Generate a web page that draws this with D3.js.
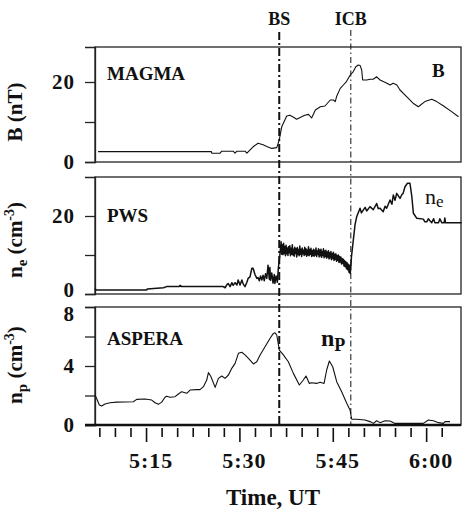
<!DOCTYPE html>
<html>
<head>
<meta charset="utf-8">
<script src="https://cdn.jsdelivr.net/npm/d3@7"></script>
<style>
  body { margin: 0; background: #fff; }
  svg { display: block; }
  text { font-family: "Liberation Serif", "Times New Roman", serif; fill: #111; font-weight: bold; }
</style>
</head>
<body>
<div id="chart"></div>
<script>
// time is minutes after 05:00 UT
var bData = [
  [7.3,2.6],[25.5,2.6],[25.55,2.2],[26.9,2.2],[27.15,2.7],[29.0,2.7],[29.3,2.2],[29.6,2.7],[30.9,2.7],[31.2,2.2],
  [32.2,3.8],[33.0,4.7],[33.8,4.3],[34.4,3.9],[35.2,3.4],[36.0,3.6],[36.4,5.5],[36.8,8.8],[37.6,11.5],[38.1,11.7],
  [38.7,11.2],[39.2,10.7],[40.0,11.3],[40.5,11.7],[41.1,11.9],[41.6,11.0],[42.2,13.0],[43.0,13.8],[43.75,14.0],[44.6,15.5],
  [45.1,15.5],[45.4,15.1],[45.6,16.3],[46.2,18.4],[46.7,19.25],[47.2,20.1],[47.8,21.75],[48.3,22.6],[48.7,23.8],[49.1,24.25],
  [49.4,24.1],[49.65,23.0],[49.8,20.5],[50.45,20.5],[51.0,20.7],[51.5,20.7],[52.05,21.3],[52.6,20.5],[53.1,20.1],[53.7,19.7],
  [54.2,19.25],[54.7,19.7],[55.3,19.25],[55.8,18.0],[56.9,16.3],[57.9,14.7],[58.75,13.8],[59.8,15.1],[60.9,15.7],[61.7,15.1],
  [62.8,14.0],[64.1,12.6],[65.2,11.3]
];

var neData = [
  [6.8,1.4],[7.0,1.0],[15.1,1.0],[15.2,1.3],[17.8,1.6],[18.3,1.9],[20.3,1.9],[20.5,2.2],[20.7,1.9],[27.4,1.9],
  [27.7,1.6],[28.0,2.4],[28.2,2.7],[28.5,1.9],[28.8,2.9],[29.0,2.2],[29.3,2.9],[29.6,2.3],[29.8,3.6],[30.1,2.3],
  [30.4,3.6],[30.6,2.6],[30.9,1.9],[31.2,3.0],[31.4,4.0],[31.7,4.4],[32.0,6.6],[32.2,6.6],[32.5,5.0],[32.8,4.0],
  [33.0,4.2],[33.2,3.4],[33.4,4.6],[33.6,3.6],[33.8,4.8],[34.0,3.4],[34.2,5.2],[34.4,4.0],[34.6,7.4],[34.8,3.8],
  [34.9,6.8],[35.0,3.5],[35.2,5.4],[35.4,2.8],[35.6,5.0],[35.7,2.7],[35.9,4.6],[36.1,3.0],[36.25,6.6],[36.5,10.0],
  [36.7,13.4],[36.8,10.2],
  [36.9,12.6],[37.0,10.1],[37.1,13.0],[37.2,10.4],[37.3,12.2],[37.4,9.8],[37.5,12.5],[37.6,10.3],[37.7,11.8],[37.8,9.9],
  [37.9,12.1],[38.0,10.6],[38.1,12.4],[38.2,9.8],[38.3,11.7],[38.4,10.2],[38.5,12.6],[38.6,10.0],[38.7,11.5],[38.8,9.7],
  [38.9,12.0],[39.0,10.4],[39.1,11.6],[39.2,9.5],[39.3,11.9],[39.4,10.1],[39.5,11.4],[39.6,9.8],[39.7,12.3],[39.8,10.2],
  [39.9,11.5],[40.0,9.6],[40.1,11.8],[40.2,10.3],[40.3,11.2],[40.4,9.9],[40.5,12.0],[40.6,10.1],[40.7,11.6],[40.8,9.7],
  [40.9,11.3],[41.0,10.0],[41.1,12.1],[41.2,9.8],[41.3,11.4],[41.4,10.2],[41.5,11.7],[41.6,9.6],[41.7,11.1],[41.8,9.9],
  [41.9,11.5],[42.0,9.7],[42.1,11.2],[42.2,10.0],[42.3,11.8],[42.4,9.6],[42.5,11.0],[42.6,10.1],[42.7,11.6],[42.8,9.5],
  [42.9,11.3],[43.0,9.8],[43.1,11.5],[43.2,9.4],[43.3,10.9],[43.4,9.9],[43.5,11.6],[43.6,9.3],[43.7,11.0],[43.8,9.6],
  [43.9,11.2],[44.0,9.2],[44.1,10.8],[44.2,9.5],[44.3,11.1],[44.4,9.0],[44.5,10.6],[44.6,9.3],[44.7,10.9],[44.8,8.8],
  [44.9,10.4],[45.0,9.1],[45.1,10.7],[45.2,8.6],[45.3,10.2],[45.4,8.9],[45.5,10.3],[45.6,8.4],[45.7,9.9],[45.8,8.6],
  [45.9,10.0],[46.0,8.1],[46.1,9.6],[46.2,8.2],[46.3,9.5],[46.4,7.7],[46.5,9.1],[46.6,7.8],[46.7,8.9],[46.8,7.2],
  [46.9,8.6],[47.0,7.0],[47.1,8.3],[47.2,6.5],[47.3,8.0],[47.4,6.2],[47.5,7.6],[47.6,5.6],[47.7,7.4],[47.8,5.2],
  [47.9,6.8],[48.0,9.5],[48.3,13.8],[48.57,17.7],
  [48.84,19.8],[49.38,22.0],[49.6,20.8],[50.2,22.2],[50.45,21.3],[50.98,22.4],[51.5,21.6],[52.05,23.2],[52.3,21.9],[52.6,22.0],
  [53.1,21.1],[53.4,22.5],[53.66,22.0],[54.2,24.1],[54.5,23.0],[54.73,25.4],[55.0,24.0],[55.27,25.8],[55.8,24.5],[56.1,25.5],
  [56.3,25.8],[56.6,27.5],[57.0,28.4],[57.4,28.4],[57.7,25.0],[57.95,20.7],[58.5,19.4],[59.55,19.2],[59.8,18.5],[60.1,18.5],
  [60.35,19.3],[60.6,18.8],[60.9,18.3],[61.2,19.3],[61.4,18.3],[62.0,18.3],[62.2,19.3],[62.5,18.3],[62.9,18.3],[63.0,19.5],
  [63.1,18.3],[65.7,18.3]
];

var npData = [
  [6.8,2.03],[7.17,1.69],[7.5,1.36],[7.87,1.29],[8.41,1.42],[9.21,1.51],[10.28,1.55],[12.96,1.58],[13.5,1.74],[14.84,1.76],
  [15.91,1.69],[16.45,1.51],[16.98,1.4],[17.52,1.55],[18.05,1.88],[18.32,1.95],[18.86,1.88],[19.66,1.92],[20.2,2.1],[20.73,2.26],
  [21.54,2.15],[22.07,2.37],[23.14,2.4],[23.68,2.4],[24.22,2.6],[24.75,3.05],[25.02,3.55],[25.4,3.3],[26.1,2.55],[26.63,3.16],
  [27.17,3.32],[27.7,3.16],[28.24,3.39],[28.77,3.84],[29.31,4.18],[29.84,4.86],[30.38,4.93],[30.91,4.75],[31.45,4.52],[32.25,4.14],
  [32.79,4.29],[33.32,4.75],[34.12,5.31],[34.93,5.88],[35.46,6.21],[35.73,6.25],[36.0,6.1],[36.42,5.08],[37.06,4.75],[37.86,4.29],
  [38.67,3.5],[39.63,2.71],[40.27,3.05],[40.7,3.32],[41.24,2.82],[41.6,2.86],[42.4,2.82],[42.96,2.9],[43.6,2.82],[44.02,3.73],
  [44.45,4.34],[44.99,3.95],[45.63,2.94],[46.43,2.26],[47.24,1.47],[47.77,1.02],[48.04,0.39],[48.84,0.39],[50.18,0.34],[50.98,0.23],
  [51.52,0.11],[52.05,0.29],[52.59,0.16],[53.39,0.29],[54.2,0.27],[55.0,0.11],[59.55,0.11],[60.36,0.34],[61.16,0.29],[61.97,0.16],
  [62.77,0.11],[63.04,0.23],[63.84,0.23]
];

var timeTicks = [15, 30, 45, 60];
var timeTickLabels = ["5:15", "5:30", "5:45", "6:00"];
var boundaryNames = ["BS", "ICB"];
var boundaryTimes = [36.4, 47.9];
var instruments = ["MAGMA", "PWS", "ASPERA"];

var Chart = {
  W: 465,
  H: 513,
  LEFT: 95,
  RIGHT: 461,
  svg: null,
  x: null,

  init: function(){
    this.svg = d3.select("#chart").append("svg")
      .attr("width", this.W)
      .attr("height", this.H);
    this.x = d3.scaleLinear().domain([6.8, 65.6]).range([this.LEFT, this.RIGHT]);

    var panels = [
      { data: bData, top: 47, bottom: 162, max: 28.75, ticks: [0, 10, 20], labels: [0, 20], name: instruments[0],
        nameY: 80, ylabelY: 112, lw: 1.1, nudge: {} },
      { data: neData, top: 177, bottom: 294, max: 30, ticks: [0, 10, 20], labels: [0, 20], name: instruments[1],
        nameY: 222, ylabelY: 240, lw: 1.5, nudge: { 0: -4 } },
      { data: npData, top: 307, bottom: 425, max: 8, ticks: [0, 2, 4, 6, 8], labels: [0, 4, 8], name: instruments[2],
        nameY: 345, ylabelY: 365, lw: 1.1, nudge: { 8: 7 } }
    ];
    var that = this;
    panels.forEach(function(p){ that.drawPanel(p); });

    this.drawYLabels(panels);
    this.drawSpeciesLabels();
    this.drawTimeAxis();
    this.drawBoundaries();
  },

  drawPanel: function(p){
    var x = this.x;
    var y = d3.scaleLinear().domain([0, p.max]).range([p.bottom, p.top]);

    this.svg.append("rect")
      .attr("x", this.LEFT).attr("y", p.top)
      .attr("width", this.RIGHT - this.LEFT).attr("height", p.bottom - p.top)
      .attr("fill", "none").attr("stroke", "#222").attr("stroke-width", 1.3);

    var axis = d3.axisLeft(y)
      .tickValues(p.ticks)
      .tickSizeInner(10).tickSizeOuter(10).tickPadding(10)
      .tickFormat(function(d){ return p.labels.indexOf(d) >= 0 ? d : ""; });
    var g = this.svg.append("g")
      .attr("transform", "translate(" + this.LEFT + ",0)")
      .call(axis);
    g.selectAll("path, line").attr("stroke", "#222").attr("stroke-width", 1.3);
    g.selectAll("text")
      .style("font-family", "'Liberation Serif', serif")
      .style("font-size", "21px")
      .style("font-weight", "bold")
      .style("letter-spacing", "1px")
      .attr("fill", "#111")
      .attr("y", function(d){ return p.nudge[d] || 0; });

    var line = d3.line()
      .x(function(d){ return x(d[0]); })
      .y(function(d){ return y(d[1]); });
    this.svg.append("path")
      .datum(p.data)
      .attr("d", line)
      .attr("fill", "none")
      .attr("stroke", "#111")
      .attr("stroke-width", p.lw)
      .attr("stroke-linejoin", "round");

    this.svg.append("text")
      .attr("x", 107).attr("y", p.nameY)
      .style("font-size", "19px")
      .text(p.name);
  },

  drawYLabels: function(panels){
    this.svg.append("text")
      .attr("transform", "translate(22," + panels[0].ylabelY + ") rotate(-90)")
      .attr("text-anchor", "middle")
      .style("font-size", "21px")
      .text("B (nT)");

    var subs = ["e", "p"];
    for (var i = 1; i < 3; i++) {
      var t = this.svg.append("text")
        .attr("transform", "translate(22," + panels[i].ylabelY + ") rotate(-90)")
        .attr("text-anchor", "middle")
        .style("font-size", "21px");
      t.append("tspan").text("n");
      t.append("tspan").attr("dy", 5).style("font-size", "15px").text(subs[i - 1]);
      t.append("tspan").attr("dy", -5).text(" (cm");
      t.append("tspan").attr("dy", -8).style("font-size", "14px").text("-3");
      t.append("tspan").attr("dy", 8).text(")");
    }
  },

  drawSpeciesLabels: function(){
    this.svg.append("text")
      .attr("x", 432).attr("y", 77)
      .style("font-size", "19px")
      .text("B");

    var ne = this.svg.append("text")
      .attr("x", 425).attr("y", 204)
      .style("font-size", "22px").style("font-weight", "normal");
    ne.append("tspan").text("n");
    ne.append("tspan").attr("dy", 3).style("font-size", "17px").text("e");

    var np = this.svg.append("text")
      .attr("x", 321).attr("y", 346)
      .style("font-size", "24px");
    np.append("tspan").text("n");
    np.append("tspan").attr("dy", 5).style("font-size", "18px").text("P");
  },

  drawTimeAxis: function(){
    var x = this.x;
    var minor = d3.range(7.5, 65, 2.5);
    var axis = d3.axisBottom(x)
      .tickValues(minor)
      .tickSizeInner(9).tickSizeOuter(0)
      .tickFormat("");
    var g = this.svg.append("g")
      .attr("transform", "translate(0,428)")
      .call(axis);
    g.select(".domain").remove();
    g.selectAll(".tick line")
      .attr("stroke", "#111")
      .attr("stroke-width", 1.6)
      .attr("y2", function(d){ return timeTicks.indexOf(d) >= 0 ? 14 : 9; });

    // heavier bottom edge of the last panel
    this.svg.append("line")
      .attr("x1", this.LEFT - 10).attr("x2", this.RIGHT)
      .attr("y1", 425).attr("y2", 425)
      .attr("stroke", "#111").attr("stroke-width", 2.4);

    this.svg.selectAll(".tlabel")
      .data(timeTicks)
      .enter().append("text")
      .attr("class", "tlabel")
      .attr("x", function(d){ return x(d) + 5; })
      .attr("y", 468)
      .attr("text-anchor", "middle")
      .style("font-size", "22px")
      .style("letter-spacing", "1px")
      .text(function(d, i){ return timeTickLabels[i]; });

    this.svg.append("text")
      .attr("x", 273).attr("y", 505)
      .attr("text-anchor", "middle")
      .style("font-size", "23px")
      .text("Time, UT");
  },

  drawBoundaries: function(){
    var x = this.x;
    var styles = [
      { w: 2, dash: "8,3,2,3", top: 32 },
      { w: 1, dash: "6,3,1.5,3", top: 30 }
    ];
    this.svg.selectAll(".bnd")
      .data(boundaryTimes)
      .enter().append("line")
      .attr("class", "bnd")
      .attr("x1", function(d){ return x(d); })
      .attr("x2", function(d){ return x(d); })
      .attr("y1", function(d, i){ return styles[i].top; })
      .attr("y2", 425)
      .attr("stroke", "#111")
      .attr("stroke-width", function(d, i){ return styles[i].w; })
      .attr("stroke-dasharray", function(d, i){ return styles[i].dash; });

    this.svg.selectAll(".bname")
      .data(boundaryTimes)
      .enter().append("text")
      .attr("class", "bname")
      .attr("x", function(d){ return x(d); })
      .attr("y", 25)
      .attr("text-anchor", "middle")
      .style("font-size", "18px")
      .text(function(d, i){ return boundaryNames[i]; });
  }
};

Chart.init();
</script>
</body>
</html>
